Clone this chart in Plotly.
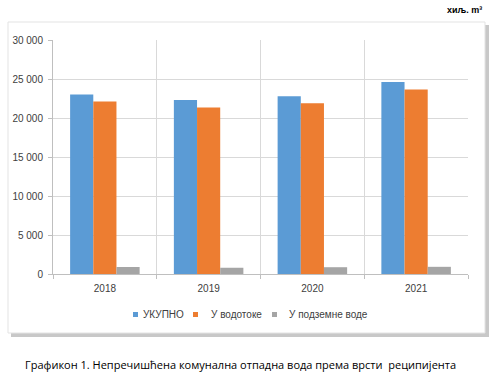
import plotly.graph_objects as go

years = ["2018", "2019", "2020", "2021"]
ukupno = [23000, 22300, 22800, 24600]
vodotoke = [22100, 21350, 21900, 23650]
podzemne = [900, 800, 870, 920]
series_names = ["УКУПНО", "У водотоке", "У подземне воде"]
colors = ["#5B9BD5", "#ED7D31", "#A5A5A5"]
ytick_vals = [0, 5000, 10000, 15000, 20000, 25000, 30000]
ytick_text = ["0", "5 000", "10 000", "15 000", "20 000", "25 000", "30 000"]

fig = go.Figure()
for name, vals, c in zip(series_names, [ukupno, vodotoke, podzemne], colors):
    fig.add_trace(go.Bar(x=years, y=vals, name=name, showlegend=False,
                         marker=dict(color=c, line=dict(width=0))))

L, R, T, B = 53, 32, 40, 103
W, H = 500, 377
pw, ph = W - L - R, H - T - B

def px(x):
    return (x - L) / pw

def py(y):
    return (H - B - y) / ph

FONT = "Liberation Sans, Arial, sans-serif"

shapes = [
    # shadow
    dict(type="rect", xref="paper", yref="paper", x0=px(11), x1=px(489), y0=py(337), y1=py(25),
         fillcolor="#c8c8c8", line=dict(width=0), layer="below"),
    dict(type="rect", xref="paper", yref="paper", x0=px(8), x1=px(485), y0=py(333), y1=py(22),
         fillcolor="white", line=dict(color="#e3e3e3", width=1), layer="below"),
]

annotations = [
    dict(text="<b>хиљ. m³</b>", xref="paper", yref="paper", x=px(484), y=py(10),
         xanchor="right", yanchor="middle", showarrow=False,
         font=dict(family=FONT, size=9, color="#000000")),
    dict(text="Графикон 1. Непречишћена комунална отпадна вода према врсти  реципијента",
         xref="paper", yref="paper", x=px(23), y=py(364), xanchor="left", yanchor="middle",
         showarrow=False, font=dict(family="Open Sans, Noto Sans, sans-serif", size=11, color="#000000")),
]

# manual compact legend (Excel style)
legend_left = [133, 193, 272]
legend_gap = [8, 16, 15]
for name, c, lx, g in zip(series_names, colors, legend_left, legend_gap):
    shapes.append(dict(type="rect", xref="paper", yref="paper", x0=px(lx), x1=px(lx + 5),
                       y0=py(317), y1=py(312), fillcolor=c, line=dict(width=0)))
    annotations.append(dict(text=name, xref="paper", yref="paper", x=px(lx + g), y=py(314.5),
                            xanchor="left", yanchor="middle", showarrow=False,
                            font=dict(family=FONT, size=10, color="#404040")))

fig.update_layout(
    width=W, height=H,
    margin=dict(l=L, r=R, t=T, b=B, autoexpand=False),
    paper_bgcolor="white", plot_bgcolor="white",
    barmode="group", bargap=0.33, bargroupgap=0,
    font=dict(family=FONT, size=10, color="#404040"),
    shapes=shapes,
    annotations=annotations,
    showlegend=False,
    xaxis=dict(type="category", tickson="boundaries", showgrid=True, gridcolor="#d9d9d9",
               showline=True, linecolor="#bfbfbf", ticks="outside", tickcolor="#bfbfbf",
               ticklen=4, ticklabelstandoff=5, tickfont=dict(family=FONT, size=10, color="#404040")),
    yaxis=dict(range=[0, 30000], tickvals=ytick_vals, ticktext=ytick_text,
               showgrid=True, gridcolor="#d9d9d9", showline=True, linecolor="#bfbfbf",
               ticks="outside", tickcolor="#bfbfbf", ticklen=4, zeroline=False,
               ticklabelstandoff=3, tickfont=dict(family=FONT, size=10, color="#404040")),
)

fig.write_html("out.html", config={"displayModeBar": False},
               post_script="document.body.style.margin='0';document.body.style.overflow='hidden';")
